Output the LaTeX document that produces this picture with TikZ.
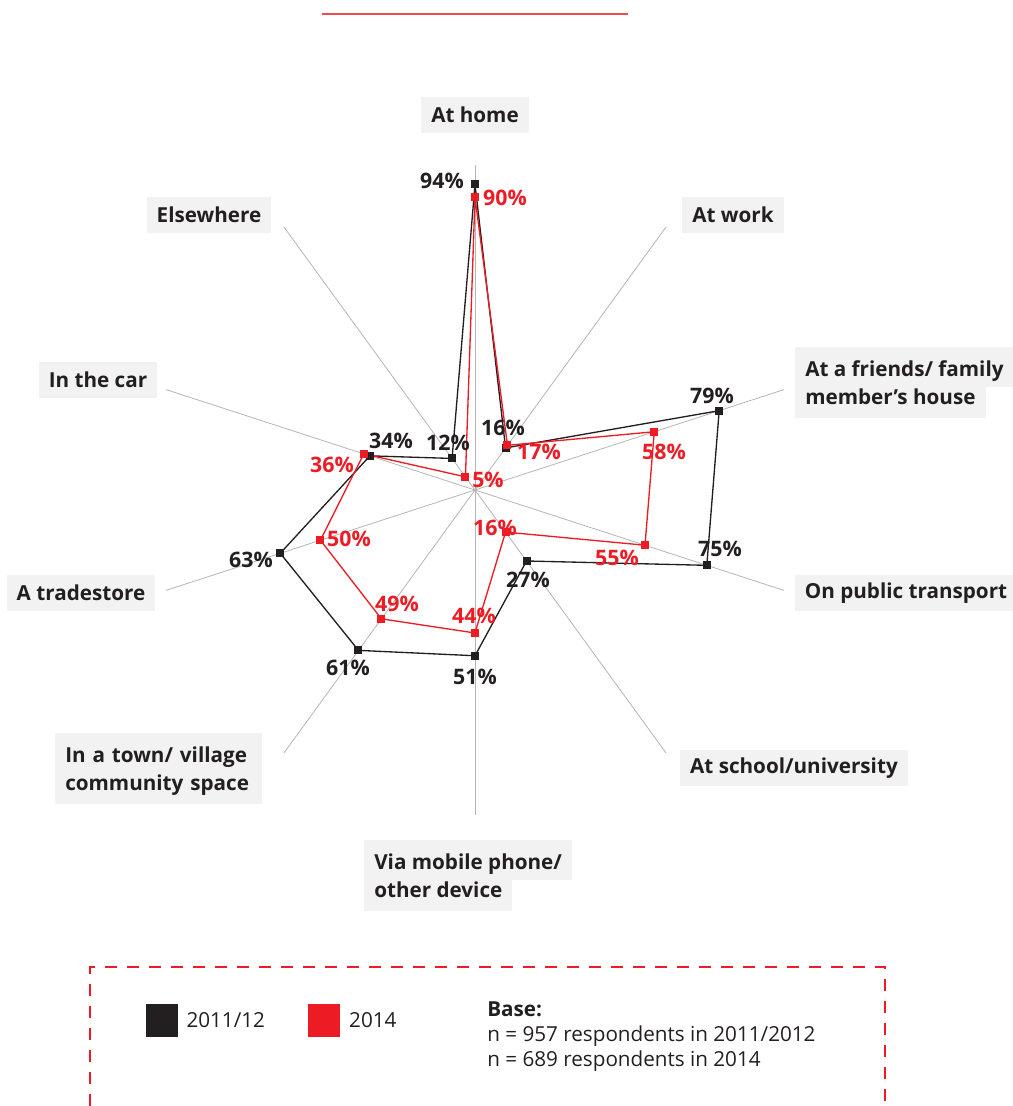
\documentclass[tikz,border=0pt]{standalone}
\usepackage{fontspec}
\setmainfont{Open Sans}
\usetikzlibrary{positioning}
\definecolor{darkser}{HTML}{231F20}
\definecolor{redser}{HTML}{ED1C24}
\definecolor{axisgray}{HTML}{B5B5B5}
\definecolor{boxgray}{HTML}{F2F2F2}

\begin{document}
\begin{tikzpicture}[x=0.75pt, y=0.75pt,
  catlabel/.style={fill=boxgray, text=darkser, font=\fontsize{15.5}{21}\selectfont\bfseries,
    inner xsep=7.5pt, inner ysep=2pt, minimum height=27pt},
  topline/.style={catlabel, anchor=north west, inner ysep=0pt, minimum height=0pt,
    text height=21.75pt, text depth=8.25pt},
  botline/.style={catlabel, anchor=north west, inner ysep=0pt, minimum height=0pt,
    text height=12.75pt, text depth=10.5pt},
  pct/.style={font=\fontsize{16}{18}\selectfont\bfseries, inner sep=0pt},
  marker/.style={rectangle, minimum size=6pt, inner sep=0pt},
  legtext/.style={font=\fontsize{15.5}{18.75}\selectfont, text=darkser, inner sep=0pt}]
\useasboundingbox (-475,-616) rectangle (538,490);
\pgfmathsetmacro{\rad}{325};

% title rule
\draw[redser!80, line width=1.5pt] (-153,476) -- (153,476);

% axis
\coordinate (o) at (0,0);
\foreach \i in {0,...,9} {
  \coordinate (ax\i) at ({90-36*\i}:\rad);
  \draw[axisgray, line width=0.6pt] (o) -- (ax\i);
}

% categories
\node[catlabel] (home) at (0,375) {At home};
\node[catlabel] (work) at (258,275) {At work};
\node[topline] (friends) at (320,143) {At a friends/ family};
\node[botline] (friends2) at ([yshift=0.5pt]friends.south west) {member’s house};
\node[catlabel] (transport) at (431,-103) {On public transport};
\node[catlabel] (school) at (319,-278) {At school/university};
\node[topline] (mobile) at (-111,-350) {Via mobile phone/};
\node[botline] (mobile2) at ([yshift=0.5pt]mobile.south west) {other device};
\node[topline, text width=140pt, align=left] (town) at (-420,-243) {In a town/ village};
\node[botline, text width=140pt, align=left] (town2) at ([yshift=0.5pt]town.south west) {community space};
\node[catlabel] (trade) at (-394,-103) {A tradestore};
\node[catlabel] (car) at (-377,110) {In the car};
\node[catlabel] (else) at (-266,275) {Elsewhere};

% data
\foreach \v [count=\i from 0] in {94,16,79,75,27,51,61,63,34,12}
  \coordinate (b\i) at ({90-36*\i}:{\v/100*\rad});
\foreach \v [count=\i from 0] in {90,17,58,55,16,44,49,50,36,5}
  \coordinate (r\i) at ({90-36*\i}:{\v/100*\rad});

\draw[darkser, line width=1pt, line join=round] (b0) \foreach \i in {1,...,9} {-- (b\i)} -- cycle;
\draw[redser, line width=1pt, line join=round] (r0) \foreach \i in {1,...,9} {-- (r\i)} -- cycle;
\foreach \i in {0,...,9} \node[marker, fill=darkser] (bm\i) at (b\i) {};
\foreach \i in {0,...,9} \node[marker, fill=redser] (rm\i) at (r\i) {};

% values 2011/12
\node[pct, text=darkser] (bv0) at (-33,309) {94\%};
\node[pct, text=darkser] (bv1) at (28,62) {16\%};
\node[pct, text=darkser] (bv2) at (237,94) {79\%};
\node[pct, text=darkser] (bv3) at (245,-59) {75\%};
\node[pct, text=darkser] (bv4) at (53,-90) {27\%};
\node[pct, text=darkser] (bv5) at (0,-187) {51\%};
\node[pct, text=darkser] (bv6) at (-127,-178) {61\%};
\node[pct, text=darkser] (bv7) at (-224,-70) {63\%};
\node[pct, text=darkser] (bv8) at (-84,49) {34\%};
\node[pct, text=darkser] (bv9) at (-27,47) {12\%};

% values 2014
\node[pct, text=redser] (rv0) at (30,292) {90\%};
\node[pct, text=redser] (rv1) at (64,38) {17\%};
\node[pct, text=redser] (rv2) at (189,38) {58\%};
\node[pct, text=redser] (rv3) at (142,-68) {55\%};
\node[pct, text=redser] (rv4) at (20,-38) {16\%};
\node[pct, text=redser] (rv5) at (-1,-126) {44\%};
\node[pct, text=redser] (rv6) at (-78,-114) {49\%};
\node[pct, text=redser] (rv7) at (-126,-49) {50\%};
\node[pct, text=redser] (rv8) at (-143,25) {36\%};
\node[pct, text=redser] (rv9) at (13,10) {5\%};

% legend
\draw[redser, line width=1.1pt, dash pattern=on 9pt off 7.5pt] (-385,-616) -- (-385,-477) -- (410,-477) -- (410,-616);
\node[fill=darkser, minimum width=24pt, minimum height=24.75pt, inner sep=0pt] (key1) at (-313,-530.5) {};
\node[legtext, right=6pt of key1] (key1txt) {2011/12};
\node[fill=redser, minimum width=24pt, minimum height=24.75pt, inner sep=0pt] (key2) at (-151,-530.5) {};
\node[legtext, right=6.5pt of key2] (key2txt) {2014};
\node[legtext, anchor=north west, align=left] (base) at (12,-511)
  {\textbf{Base:}\\n = 957 respondents in 2011/2012\\n = 689 respondents in 2014};
\end{tikzpicture}
\end{document}
